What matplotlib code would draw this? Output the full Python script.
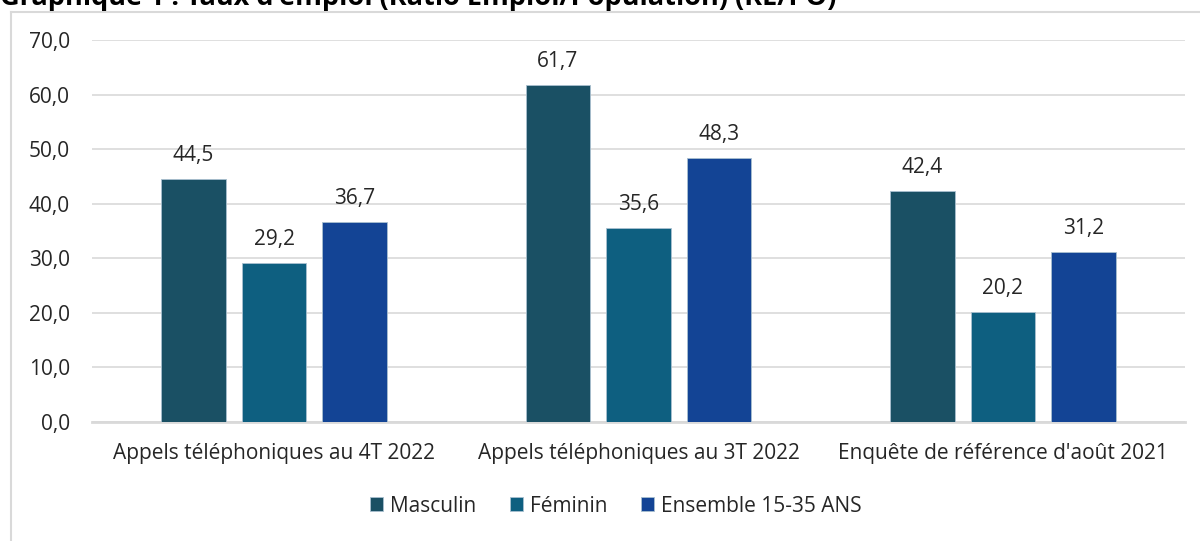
import matplotlib.pyplot as plt
import numpy as np
from matplotlib.lines import Line2D

plt.rcParams['font.family'] = ['Open Sans', 'DejaVu Sans']

# data
categories = ['Appels téléphoniques au 4T 2022',
              'Appels téléphoniques au 3T 2022',
              "Enquête de référence d'août 2021"]
series = ['Masculin', 'Féminin', 'Ensemble 15-35 ANS']
masculin = [44.5, 61.7, 42.4]
feminin = [29.2, 35.6, 20.2]
ensemble = [36.7, 48.3, 31.2]
colors = ['#1a5064', '#0e5f80', '#134495']

fs = 15

fig = plt.figure(figsize=(12, 5.41), dpi=100)
ax = fig.add_axes([92 / 1200, 1 - 422 / 541, (1185 - 92) / 1200, (422 - 40) / 541])

x = np.arange(len(categories))
width = 0.177
step = 0.221
for i, (vals, name, col) in enumerate(zip([masculin, feminin, ensemble], series, colors)):
    pos = x + (i - 1) * step
    bars = ax.bar(pos, vals, width, color=col, label=name, edgecolor='#a9c0d0', linewidth=0.6, zorder=3)
    for b, v in zip(bars, vals):
        ax.annotate(f'{v:.1f}'.replace('.', ','), (b.get_x() + b.get_width() / 2, v),
                    xytext=(0, 13), textcoords='offset points', ha='center', va='baseline',
                    fontsize=fs, color='#262626')

ax.set_xlim(-0.5, 2.5)
ax.set_ylim(0, 70)
ax.set_yticks(np.arange(0, 71, 10))
ax.set_yticklabels([f'{t:.1f}'.replace('.', ',') for t in np.arange(0, 71, 10)])
ax.set_xticks(x)
ax.set_xticklabels(categories)
ax.tick_params(axis='both', length=0, labelsize=fs, labelcolor='#262626')
ax.tick_params(axis='y', pad=16)
ax.tick_params(axis='x', pad=15)
ax.grid(axis='y', color='#d9d9d9', linewidth=1.2, zorder=0)
for s in ['top', 'right', 'left']:
    ax.spines[s].set_visible(False)
ax.spines['bottom'].set_color('#d9d9d9')
ax.spines['bottom'].set_linewidth(2)

ax.legend(loc='center', bbox_to_anchor=(616 / 1200, 1 - 506 / 541), bbox_transform=fig.transFigure,
          ncol=3, frameon=False, fontsize=fs, handlelength=0.62, handleheight=0.62,
          columnspacing=1.6, handletextpad=0.34, labelcolor='#262626')

# chart frame (partially visible) and cut-off title
fig.add_artist(Line2D([11 / 1200, 1], [1 - 12 / 541, 1 - 12 / 541], color='#d9d9d9', linewidth=1.5))
fig.add_artist(Line2D([11 / 1200, 11 / 1200], [0, 1 - 12 / 541], color='#d9d9d9', linewidth=1.5))
fig.text(0.0, 1 - 5 / 541, "Graphique 1 : Taux d'emploi (Ratio Emploi/Population) (RE/PO)",
         fontsize=19.5, fontweight='bold', va='baseline', ha='left', color='#000000')

fig.savefig('out.png', dpi=100)
